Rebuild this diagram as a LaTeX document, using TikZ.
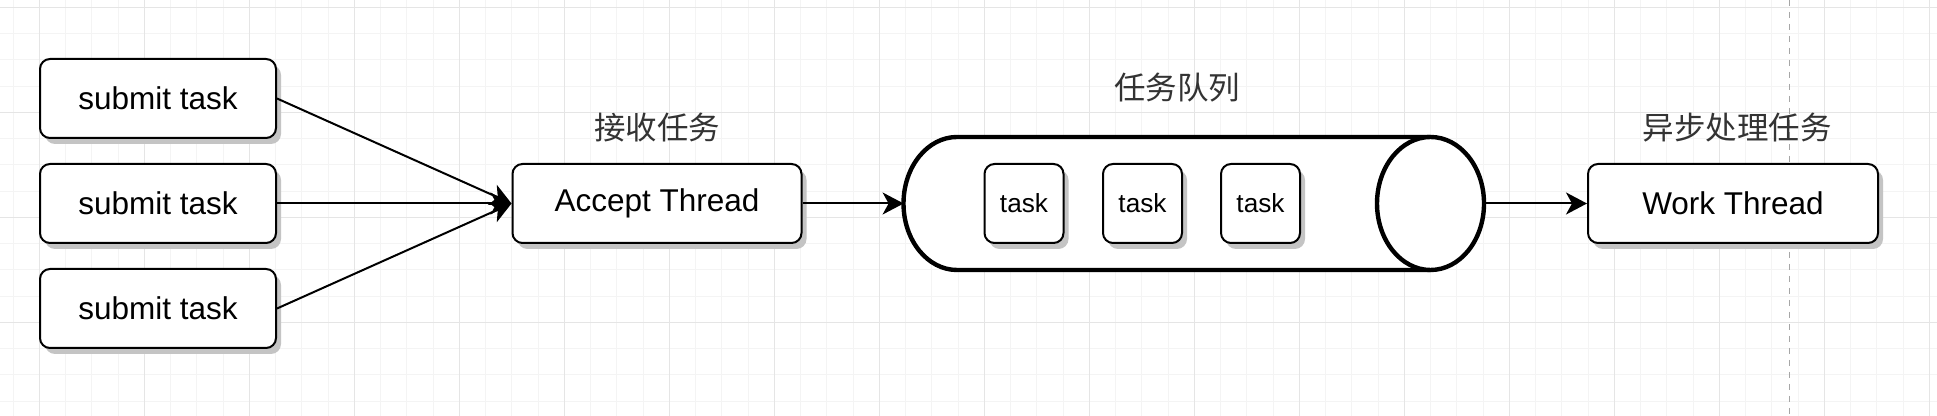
\documentclass[tikz,border=0pt]{standalone}
\usepackage{fontspec}
\setmainfont{Liberation Sans}
\newfontfamily\cjk{Noto Sans CJK SC}
\usetikzlibrary{arrows.meta,shadows}
\definecolor{gridminor}{RGB}{244,244,244}
\definecolor{gridmajor}{RGB}{229,229,229}
\definecolor{shadowgray}{RGB}{196,196,196}
\definecolor{lbltext}{RGB}{51,51,51}
\tikzset{
  gridminorline/.style={draw=gridminor, line width=0.5pt},
  gridmajorline/.style={draw=gridmajor, line width=0.6pt},
  pagebreak/.style={draw=black!35, line width=0.5pt, dash pattern=on 3pt off 3pt},
  sketchbox/.style={draw, line width=1pt, fill=white, rounded corners=5pt,
    inner sep=0pt, font=\fontsize{15.75}{18}\selectfont,
    drop shadow={shadow xshift=2.5pt, shadow yshift=-3pt, fill=shadowgray, opacity=1}},
  bigbox/.style={sketchbox, minimum height=39.5pt},
  taskbox/.style={sketchbox, minimum width=39.5pt, minimum height=39.5pt,
    font=\fontsize{13.1}{15}\selectfont},
  cyl/.style={draw, fill=white, line width=2.2pt},
  lbl/.style={font=\cjk\fontsize{15.75}{18}\selectfont, text=lbltext, inner sep=0pt},
  arr/.style={draw, line width=1pt, -{Stealth[length=10.5pt, width=11pt, inset=3pt]}},
}
\begin{document}
\begin{tikzpicture}[x=0.5pt, y=-0.5pt]
\useasboundingbox (0,0) rectangle (1937,416);
\fill[white] (0,0) rectangle (1937,416);
% background grid
\foreach \i in {0,...,73} \path[gridminorline] ({13.05+26.25*\i},0) -- ++(0,416);
\foreach \j in {0,...,15} \path[gridminorline] (0,{7.3+26.25*\j}) -- ++(1937,0);
\foreach \i in {0,...,18} \path[gridmajorline] ({39.3+105*\i},0) -- ++(0,416);
\foreach \j in {0,...,3} \path[gridmajorline] (0,{7.3+105*\j}) -- ++(1937,0);
\path[pagebreak] (1789,0) -- (1789,416);

% submit boxes
\node[bigbox, minimum width=118pt] (s1) at (158,98.5) {submit task};
\node[bigbox, minimum width=118pt] (s2) at (158,203.5) {submit task};
\node[bigbox, minimum width=118pt] (s3) at (158,308.5) {submit task};

% accept thread
\node[bigbox, minimum width=144.5pt] (acc) at (657,203.5) {Accept Thread};
\node[lbl] (lacc) at (657,128) {接收任务};

% queue (cylinder)
\node[inner sep=0pt, minimum width=290pt, minimum height=66pt] (queue) at (1194,203.5) {};
\path[cyl] (1430.5,137) -- (957,137)
  arc[start angle=270, end angle=90, x radius=53.5, y radius=66.5]
  -- (1430.5,270);
\path[cyl] (1430.5,203.5) ellipse[x radius=53.5, y radius=66.5];
\node[lbl] (lqueue) at (1177,88) {任务队列};
\node[taskbox] (t1) at (1024,203.5) {task};
\node[taskbox] (t2) at (1142.5,203.5) {task};
\node[taskbox] (t3) at (1260.5,203.5) {task};

% work thread
\node[bigbox, minimum width=145pt] (work) at (1733,203.5) {Work Thread};
\node[lbl] (lwork) at (1737,128) {异步处理任务};

% connectors
\path[arr] (s1.east) -- (acc.west);
\path[arr] (s2.east) -- (acc.west);
\path[arr] (s3.east) -- (acc.west);
\path[arr] (acc.east) -- (queue.west);
\path[arr] (queue.east) -- (work.west);
\end{tikzpicture}
\end{document}
